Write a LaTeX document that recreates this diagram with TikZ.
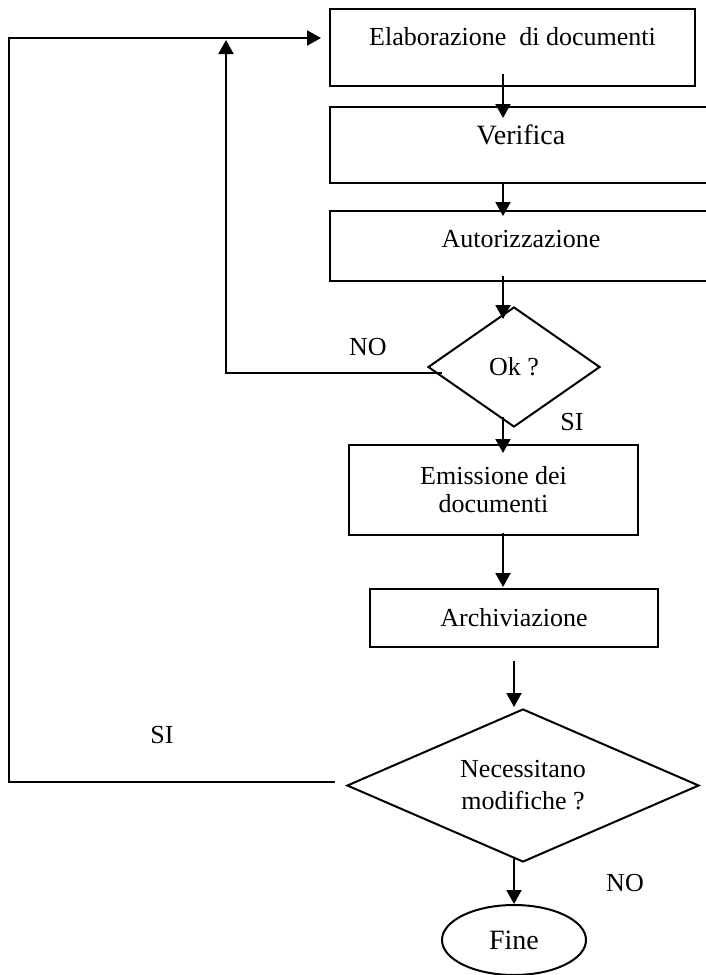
\documentclass[tikz,border=0pt]{standalone}
\usepackage{fontspec}
\setmainfont{Liberation Serif}
\usetikzlibrary{shapes.geometric, arrows.meta}

\begin{document}
\begin{tikzpicture}[x=0.5pt, y=-0.5pt, line width=1pt,
font=\fontsize{13}{15}\selectfont,
box/.style={draw, inner sep=0pt},
upbox/.style={box, text height=9pt, text depth=#1},
arr/.style={-{Triangle[length=7pt, width=7.5pt]}},
lbl/.style={inner sep=0pt}]

\useasboundingbox (0,0) rectangle (706,975);
\clip (0,0) rectangle (706,975);

\node (elab) [upbox=11.5pt, minimum width=182.5pt, minimum height=38.5pt] at (512.5,47.5) {Elaborazione\ \ di documenti};
\node (verif) [upbox=10pt, minimum width=191pt, minimum height=38pt, font=\fontsize{14}{16}\selectfont] at (521,145) {Verifica};
\node (autor) [upbox=8pt, minimum width=191pt, minimum height=35pt] at (521,246) {Autorizzazione};
\node (ok) [box, diamond, aspect=1.4, minimum width=86pt, minimum height=60pt] at (514,367) {Ok ?};
\node (emis) [box, align=center, minimum width=144.5pt, minimum height=45pt, font=\fontsize{13}{14}\selectfont] at (493.5,490) {Emissione dei\\documenti};
\node (arch) [box, minimum width=144pt, minimum height=29pt] at (514,618) {Archiviazione};
\node (nec) [box, diamond, aspect=2.3, align=center, minimum width=176pt, minimum height=76.5pt, font=\fontsize{13}{16}\selectfont] at (523,785.5) {Necessitano\\modifiche ?};
\node (fine) [box, ellipse, minimum width=72pt, minimum height=35pt, font=\fontsize{14}{16}\selectfont] at (514,940) {Fine};

\node (no1) [lbl] at (368,347) {NO};
\node (si1) [lbl] at (572,422) {SI};
\node (si2) [lbl] at (162,735) {SI};
\node (no2) [lbl] at (625,883) {NO};

\coordinate (topL) at (9,38);
\coordinate (noup) at (226,40);

\draw[arr] ([shift={(-9.5,-13)}]elab.south) -- ([shift={(-18,12)}]verif.north);
\draw[arr] ([shift={(-18,0)}]verif.south) -- ([shift={(-18,6)}]autor.north);
\draw[arr] ([shift={(-18,-6)}]autor.south) -- ([shift={(-11,13)}]ok.north);
\draw[arr] ([shift={(-11,-11)}]ok.south) -- ([shift={(9.5,9)}]emis.north);
\draw[arr] ([shift={(9.5,-3)}]emis.south) -- ([shift={(-11,-1)}]arch.north);
\draw[arr] ([shift={(0,13)}]arch.south) -- ([shift={(-9,-1)}]nec.north);
\draw[arr] ([shift={(-9,-6)}]nec.south) -- (fine.north);

\draw[arr] ([shift={(15,6)}]ok.west) -| (noup);
\draw[arr] ([shift={(-11,-3.5)}]nec.west) -| (topL) -- ([shift={(-8,-9.5)}]elab.west);

\end{tikzpicture}
\end{document}
